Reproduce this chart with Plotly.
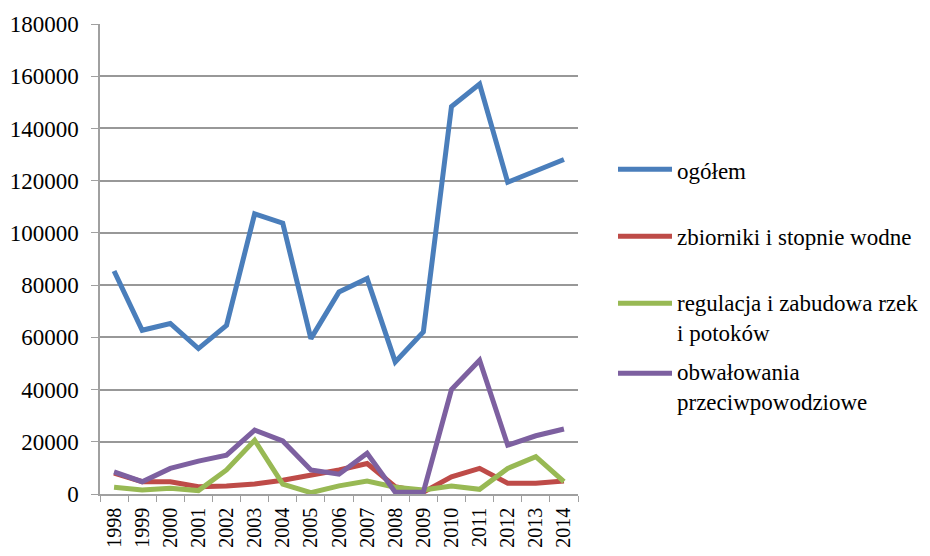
import plotly.graph_objects as go

years = [str(y) for y in range(1998, 2015)]
ogolem = [85400, 62700, 65300, 55700, 64600, 107300, 103700, 59500, 77400, 82500,
          50600, 62100, 148400, 157000, 119400, 123900, 128100]
zbiorniki = [8000, 4700, 4700, 2800, 3100, 3800, 5300, 7300, 9200, 11700,
             2800, 700, 6600, 9800, 4100, 4100, 5000]
regulacja = [2600, 1500, 2200, 1300, 9200, 20600, 3800, 500, 3100, 5000,
             2600, 1500, 3100, 1800, 9800, 14300, 4700]
obwalowania = [8500, 4700, 9800, 12600, 14900, 24500, 20300, 9200, 7600, 15600,
               700, 700, 40000, 51200, 18700, 22300, 24900]

names = ["ogółem", "zbiorniki i stopnie wodne",
         "regulacja i zabudowa rzek<br>i potoków",
         "obwałowania<br>przeciwpowodziowe"]
colors = ["#4A7EBB", "#BE4B48", "#98B954", "#7D60A0"]
series = [ogolem, zbiorniki, regulacja, obwalowania]
y_ticks = list(range(0, 180001, 20000))

FONT = "Liberation Serif"
# page offset (browser body margin) compensated: reference px -> figure px
OFF = 8
W, H = 930 - OFF, 556 - OFF
ML, MR, MT, MB = 100 - OFF, 352, 23.5 - OFF, 62
PW, PH = W - ML - MR, H - MT - MB

fig = go.Figure()
for name, col, vals in zip(names, colors, series):
    fig.add_trace(go.Scatter(x=years, y=vals, mode="lines", name=name,
                             line=dict(color=col, width=5), showlegend=False))

def px_x(p):
    return (p - OFF - ML) / PW

def px_y(p):
    return (H - MB - (p - OFF)) / PH

legend_y = [169, 236, 303, 373]
text_y = [171, 237, 318, 387]
for name, col, ly, ty in zip(names, colors, legend_y, text_y):
    fig.add_shape(type="line", xref="paper", yref="paper",
                  x0=px_x(618), x1=px_x(672), y0=px_y(ly), y1=px_y(ly),
                  line=dict(color=col, width=5))
    fig.add_annotation(xref="paper", yref="paper", x=px_x(675), y=px_y(ty),
                       xanchor="left", yanchor="middle", align="left",
                       text=name, showarrow=False,
                       font=dict(family=FONT, size=23, color="black"))

fig.update_layout(
    width=W, height=H,
    margin=dict(l=ML, r=MR, t=MT, b=MB, autoexpand=False),
    paper_bgcolor="white", plot_bgcolor="white",
    font=dict(family=FONT, size=23, color="black"),
)
fig.update_xaxes(type="category", tickangle=-90, tickson="boundaries",
                 ticks="outside", ticklen=6, tickcolor="#A0A0A0",
                 showline=True, linecolor="#A0A0A0", linewidth=1.5,
                 showgrid=False, automargin=False, ticklabelstandoff=4,
                 tickfont=dict(family=FONT, size=20, color="black"),
                 range=[-0.5, 16.5])
fig.update_yaxes(range=[0, 180000], tickvals=y_ticks,
                 ticktext=[str(v) for v in y_ticks],
                 ticks="outside", ticklen=7, tickcolor="#A0A0A0",
                 showline=True, linecolor="#A0A0A0", linewidth=1.5,
                 showgrid=True, gridcolor="#989898", gridwidth=1.5,
                 zeroline=False, ticklabelstandoff=8, automargin=False,
                 tickfont=dict(family=FONT, size=23, color="black"))

fig.write_html("out.html")
